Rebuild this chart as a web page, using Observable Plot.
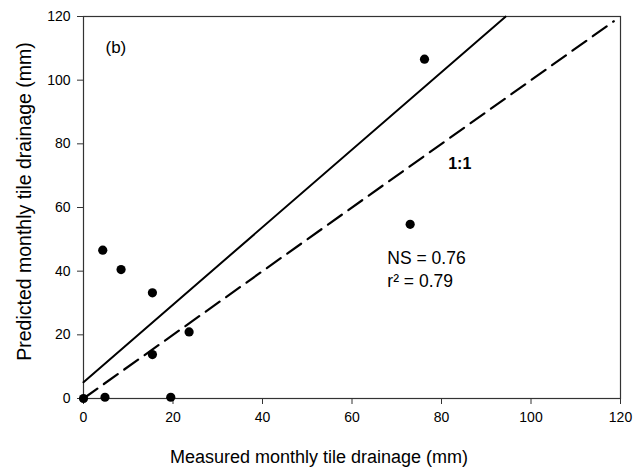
<!DOCTYPE html>
<html>
<head>
<meta charset="utf-8">
<script src="https://cdn.jsdelivr.net/npm/d3@7"></script>
<script src="https://cdn.jsdelivr.net/npm/@observablehq/plot@0.6"></script>
<style>
  html, body { margin: 0; padding: 0; background: #fff; }
  #chart svg { display: block; font-family: "Liberation Sans", Arial, sans-serif; }
</style>
</head>
<body>
<div id="chart"></div>
<script>
// Observed points
const measured  = [0, 4.8, 19.5, 15.4, 23.6, 15.4, 8.4, 4.3, 73.0, 76.2];
const predicted = [0, 0.4, 0.4, 13.8, 20.9, 33.2, 40.5, 46.6, 54.7, 106.6];

// Regression line (intercept, slope) and its drawn x-extent
const fitIntercept = 5.1;
const fitSlope = 1.218;
const fitXRange = [0, 94.3];

// 1:1 line extent
const oneToOneRange = [0, 118.5];

const ticks = [0, 20, 40, 60, 80, 100, 120];
const xLabel = "Measured monthly tile drainage (mm)";
const yLabel = "Predicted monthly tile drainage (mm)";
const panelLabel = "(b)";
const oneLabel = "1:1";
const statsLabel = ["NS = 0.76", "r² = 0.79"];

const points = measured.map((m, i) => ({x: m, y: predicted[i]}));
const fit = fitXRange.map(x => ({x, y: fitIntercept + fitSlope * x}));
const ident = oneToOneRange.map(v => ({x: v, y: v}));

const font = "Liberation Sans, Arial, sans-serif";

const chart = Plot.plot({
  width: 637,
  height: 467,
  marginLeft: 83,
  marginRight: 17,
  marginTop: 16,
  marginBottom: 69,
  style: {fontFamily: font, background: "#fff", color: "#000"},
  x: {domain: [0, 120]},
  y: {domain: [0, 120]},
  marks: [
    Plot.frame({stroke: "#333", strokeWidth: 1.2}),
    Plot.axisX({ticks, tickSize: 6, tickPadding: 8, fontSize: 14, label: null, stroke: "#333"}),
    Plot.axisY({ticks, tickSize: 6, tickPadding: 7, fontSize: 14, label: null, stroke: "#333"}),
    Plot.line(ident, {x: "x", y: "y", stroke: "#000", strokeWidth: 2.2, strokeDasharray: "17,8"}),
    Plot.line(fit, {x: "x", y: "y", stroke: "#000", strokeWidth: 2}),
    Plot.dot(points, {x: "x", y: "y", r: 4.6, fill: "#000", stroke: "none"}),
    Plot.text([panelLabel], {frameAnchor: "top-left", dx: 22, dy: 31, fontSize: 17, textAnchor: "start", lineAnchor: "middle"}),
    Plot.text([oneLabel], {x: () => 81.5, y: () => 73.6, fontSize: 16, fontWeight: "bold", textAnchor: "start"}),
    Plot.text([statsLabel.join("\n")], {x: () => 67.9, y: () => 47.2, fontSize: 17.5, textAnchor: "start", lineAnchor: "top", lineHeight: 1.3}),
    Plot.text([xLabel], {frameAnchor: "bottom", dx: -33, dy: 64, fontSize: 18, lineAnchor: "bottom"}),
    Plot.text([yLabel], {frameAnchor: "left", dx: -53, dy: -6, rotate: -90, fontSize: 19.5, textAnchor: "middle", lineAnchor: "bottom"})
  ]
});
document.getElementById("chart").appendChild(chart);
</script>
</body>
</html>
